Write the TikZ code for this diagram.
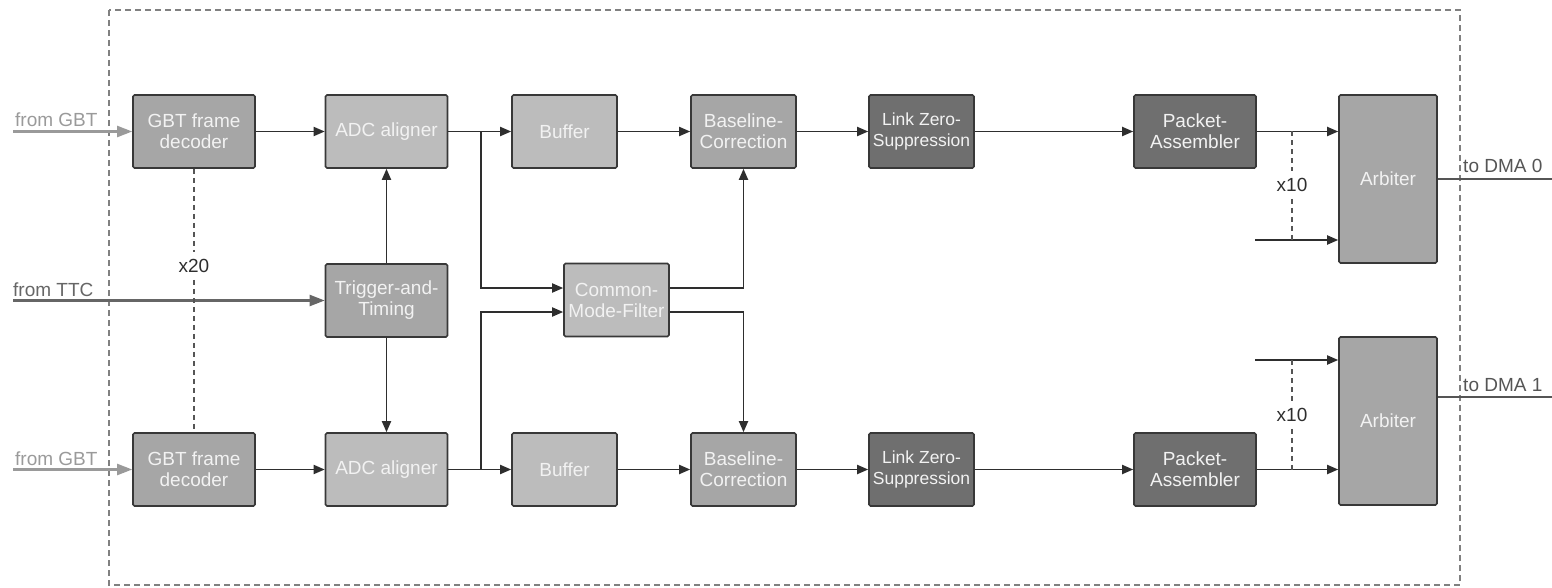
\documentclass[tikz,border=0pt]{standalone}
\usepackage{fontspec}
\setmainfont{Liberation Sans}
\usetikzlibrary{arrows.meta,
                calc,
                positioning}
\definecolor{boxlight}{HTML}{BCBCBC}
\definecolor{boxmid}{HTML}{A6A6A6}
\definecolor{boxdark}{HTML}{6F6F6F}
\definecolor{edge}{HTML}{383838}
\definecolor{wire}{HTML}{2E2E2E}
\definecolor{boxtext}{HTML}{F2F2F2}
\definecolor{gbtgray}{HTML}{9A9A9A}
\definecolor{ttcgray}{HTML}{666666}
\definecolor{dashgray}{HTML}{555555}
\definecolor{framegray}{HTML}{808080}
\tikzstyle{block} = [rectangle, rounded corners=1.5pt, minimum height=73pt, text centered, align=center, draw=edge, line width=1.6pt, text=boxtext, inner sep=1pt, font=\fontsize{19}{21}\selectfont]
\tikzstyle{wide} = [block, minimum width=122pt]
\tikzstyle{narrow} = [block, minimum width=105pt]
\tikzstyle{arbiter} = [block, minimum width=98pt, minimum height=168pt, fill=boxmid]
\tikzstyle{arrow} = [line width=1.8pt, draw=wire, -{Triangle[length=11pt,width=9pt]}]
\tikzstyle{inarrow} = [line width=2.2pt, -{Triangle[length=15pt,width=11pt]}]
\tikzstyle{multi} = [dash pattern=on 5pt off 4pt, line width=2pt, draw=dashgray]
\tikzstyle{caption} = [inner sep=1pt, font=\fontsize{19}{21}\selectfont]
\tikzstyle{count} = [inner sep=1pt, inner ysep=7pt, text=wire, font=\fontsize{19}{21}\selectfont]

\begin{document}
\begin{tikzpicture}[x=1pt, y=-1pt, node distance=178pt]
        \useasboundingbox (0,0) rectangle (1552,588);
        \draw [framegray, line width=2.2pt, dash pattern=on 6pt off 4pt] (109,10) rectangle (1460,585);

        % upper channel
        \node (gbt0) [wide, fill=boxmid] at (194,131.5) {GBT frame\\decoder};
        \node (adc0) [wide, fill=boxlight, node distance=192.5pt, right of=gbt0] {ADC aligner};
        \node (buf0) [narrow, fill=boxlight, right of=adc0] {Buffer};
        \node (base0) [narrow, fill=boxmid, node distance=179pt, right of=buf0] {Baseline-\\Correction};
        \node (lzs0) [narrow, fill=boxdark, right of=base0, font=\fontsize{17.5}{21}\selectfont] {Link Zero-\\Suppression};
        \node (pack0) [wide, fill=boxdark, node distance=273.5pt, right of=lzs0] {Packet-\\Assembler};
        \node (arb0) [arbiter] at (1388,179) {Arbiter};

        % lower channel
        \node (gbt1) [wide, fill=boxmid] at (194,469.5) {GBT frame\\decoder};
        \node (adc1) [wide, fill=boxlight, node distance=192.5pt, right of=gbt1] {ADC aligner};
        \node (buf1) [narrow, fill=boxlight, right of=adc1] {Buffer};
        \node (base1) [narrow, fill=boxmid, node distance=179pt, right of=buf1] {Baseline-\\Correction};
        \node (lzs1) [narrow, fill=boxdark, right of=base1, font=\fontsize{17.5}{21}\selectfont] {Link Zero-\\Suppression};
        \node (pack1) [wide, fill=boxdark, node distance=273.5pt, right of=lzs1] {Packet-\\Assembler};
        \node (arb1) [arbiter] at (1388,421) {Arbiter};

        % shared blocks
        \node (trig) [wide, fill=boxmid] at (386.5,300.5) {Trigger-and-\\Timing};
        \node (cmf) [narrow, fill=boxlight] at (616.5,300) {Common-\\Mode-Filter};

        % inputs
        \coordinate (gbtin0) at (13,131.5);
        \coordinate (gbtin1) at (13,469.5);
        \coordinate (ttcin) at (13,300.5);
        \node (lblgbt0) [caption, text=gbtgray, anchor=base west] at (14,127) {from GBT};
        \node (lblgbt1) [caption, text=gbtgray, anchor=base west] at (14,465) {from GBT};
        \node (lblttc) [caption, text=ttcgray, anchor=base west] at (12,296) {from TTC};
        \draw [inarrow, gbtgray] (gbtin0) -- (gbt0);
        \draw [inarrow, gbtgray] (gbtin1) -- (gbt1);
        \draw [inarrow, ttcgray] (ttcin) -- (trig);

        % x20 decoders
        \node (mult20) [count] at (194,266) {x20};
        \draw [multi] (gbt0) -- (mult20);
        \draw [multi] (mult20) -- (gbt1);

        % processing chains
        \draw [arrow] (gbt0) -- (adc0);
        \draw [arrow] (adc0) -- (buf0);
        \draw [arrow] (buf0) -- (base0);
        \draw [arrow] (base0) -- (lzs0);
        \draw [arrow] (lzs0) -- (pack0);
        \draw [arrow] (pack0) -- (pack0 -| arb0.west);
        \draw [arrow] (gbt1) -- (adc1);
        \draw [arrow] (adc1) -- (buf1);
        \draw [arrow] (buf1) -- (base1);
        \draw [arrow] (base1) -- (lzs1);
        \draw [arrow] (lzs1) -- (pack1);
        \draw [arrow] (pack1) -- (pack1 -| arb1.west);

        % trigger and common mode
        \draw [arrow] (trig) -- (adc0);
        \draw [arrow] (trig) -- (adc1);
        \coordinate (split0) at (481,131.5);
        \coordinate (split1) at (481,469.5);
        \draw [arrow] (split0) |- ([yshift=12pt]cmf.west);
        \draw [arrow] (split1) |- ([yshift=-12pt]cmf.west);
        \draw [arrow] ([yshift=12pt]cmf.east) -| (base0);
        \draw [arrow] ([yshift=-12pt]cmf.east) -| (base1);

        % x10 links into the arbiters
        \coordinate (more0) at (1255,240);
        \coordinate (more1) at (1255,360);
        \draw [arrow] (more0) -- (more0 -| arb0.west);
        \draw [arrow] (more1) -- (more1 -| arb1.west);
        \coordinate (tap0) at (1292,131.5);
        \coordinate (tap0b) at (1292,240);
        \coordinate (tap1) at (1292,360);
        \coordinate (tap1b) at (1292,469.5);
        \node (mult10a) [count] at (1292,185) {x10};
        \node (mult10b) [count] at (1292,415) {x10};
        \draw [multi] (tap0) -- (mult10a);
        \draw [multi] (mult10a) -- (tap0b);
        \draw [multi] (tap1) -- (mult10b);
        \draw [multi] (mult10b) -- (tap1b);

        % outputs
        \coordinate (dma0) at (1552,179);
        \coordinate (dma1) at (1552,397);
        \draw [line width=2pt, dashgray] (arb0) -- (dma0);
        \draw [line width=2pt, dashgray] ([yshift=24pt]arb1.east) -- (dma1);
        \node (lbldma0) [caption, text=dashgray, anchor=base west] at (1462,173) {to DMA 0};
        \node (lbldma1) [caption, text=dashgray, anchor=base west] at (1462,391) {to DMA 1};
\end{tikzpicture}
\end{document}
